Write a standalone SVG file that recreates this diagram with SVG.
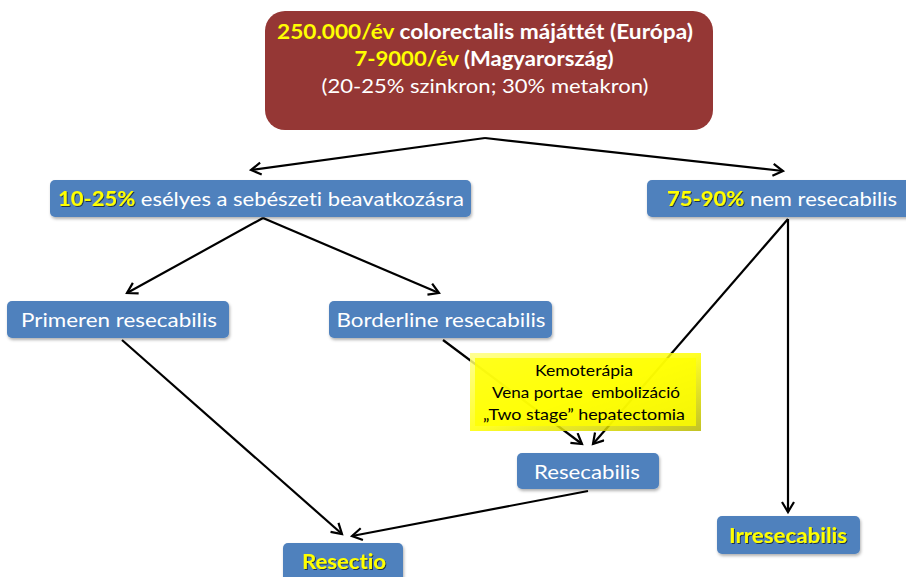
<svg xmlns="http://www.w3.org/2000/svg" width="906" height="577" viewBox="0 0 906 577">
<style>
.t{font-family:Lato,"Open Sans","Liberation Sans",sans-serif;font-variant-ligatures:none;white-space:pre;}
.w{fill:#ffffff;}
.y{fill:#ffff00;}
.b{font-weight:bold;}
.blue{fill:#4f81bd;}
.conn{stroke:#000;stroke-width:2.2;fill:none;marker-end:url(#arr);}
.ys{filter:url(#tsh);}
</style>
<defs>
<marker id="arr" markerUnits="userSpaceOnUse" markerWidth="16" markerHeight="16" refX="12" refY="7" orient="auto">
<path d="M2,1 L12,7 L2,13" fill="none" stroke="#000" stroke-width="2.2"/>
</marker>
<filter id="sh" x="-10%" y="-20%" width="120%" height="160%">
<feDropShadow dx="1" dy="2" stdDeviation="1.5" flood-color="#000" flood-opacity="0.3"/>
</filter>
<filter id="tsh" x="-10%" y="-20%" width="130%" height="160%">
<feDropShadow dx="1" dy="1" stdDeviation="0.6" flood-color="#000" flood-opacity="0.6"/>
</filter>
<linearGradient id="bev" x1="0" y1="0" x2="1" y2="1">
<stop offset="0" stop-color="#ffff80"/>
<stop offset="0.5" stop-color="#ffff00"/>
<stop offset="1" stop-color="#b8b800"/>
</linearGradient>
</defs>
<rect width="906" height="577" fill="#ffffff"/>
<g id="connectors">
<line class="conn" x1="485" y1="138" x2="251" y2="170"/>
<line class="conn" x1="485" y1="138" x2="783" y2="171"/>
<line class="conn" x1="263" y1="218" x2="127" y2="293"/>
<line class="conn" x1="263" y1="218" x2="439" y2="293"/>
<line class="conn" x1="122" y1="340" x2="342" y2="534"/>
<line class="conn" x1="443" y1="340" x2="582" y2="444"/>
<line class="conn" x1="788" y1="219" x2="593" y2="444"/>
<line class="conn" x1="788" y1="219" x2="788" y2="512"/>
<line class="conn" x1="588" y1="491" x2="352" y2="536"/>
</g>
<g id="top">
<rect x="265" y="11" width="448" height="119" rx="20" fill="#953735"/>
<text class="t b" x="485" y="39" font-size="20" text-anchor="middle" textLength="416" lengthAdjust="spacingAndGlyphs"><tspan class="y">250.000/év</tspan><tspan class="w"> colorectalis májáttét (Európa)</tspan></text>
<text class="t b" x="484" y="66" font-size="20" text-anchor="middle" textLength="259" lengthAdjust="spacingAndGlyphs"><tspan class="y">7-9000/év</tspan><tspan class="w"> (Magyarország)</tspan></text>
<text class="t w" x="485" y="93" font-size="20" text-anchor="middle" textLength="327" lengthAdjust="spacingAndGlyphs">(20-25% szinkron; 30% metakron)</text>
</g>
<g id="esely">
<rect class="blue" x="50" y="180" width="421" height="37" rx="5" filter="url(#sh)"/>
<text class="t w" x="261" y="206" font-size="20" text-anchor="middle" textLength="406" lengthAdjust="spacingAndGlyphs"><tspan class="y b ys">10-25%</tspan> esélyes a sebészeti beavatkozásra</text>
</g>
<g id="nemres">
<rect class="blue" x="647" y="180" width="270" height="37" rx="5" filter="url(#sh)"/>
<text class="t w" x="782" y="206" font-size="20" text-anchor="middle" textLength="230" lengthAdjust="spacingAndGlyphs"><tspan class="y b ys">75-90%</tspan> nem resecabilis</text>
</g>
<g id="primeren">
<rect class="blue" x="7" y="301" width="222" height="37" rx="5" filter="url(#sh)"/>
<text class="t w" x="119" y="327" font-size="20" text-anchor="middle" textLength="196" lengthAdjust="spacingAndGlyphs">Primeren resecabilis</text>
</g>
<g id="borderline">
<rect class="blue" x="329" y="301" width="223" height="37" rx="5" filter="url(#sh)"/>
<text class="t w" x="441" y="327" font-size="20" text-anchor="middle" textLength="209" lengthAdjust="spacingAndGlyphs">Borderline resecabilis</text>
</g>
<g id="kemo">
<rect x="470" y="353" width="231" height="78" fill="url(#bev)" fill-opacity="0.85"/>
<rect x="475" y="358" width="221" height="68" fill="#ffff00" fill-opacity="0.8"/>
<text class="t" x="584" y="376" font-size="16" text-anchor="middle" textLength="98" lengthAdjust="spacingAndGlyphs" fill="#000">Kemoterápia</text>
<text class="t" x="586" y="398" font-size="16" text-anchor="middle" textLength="188" lengthAdjust="spacingAndGlyphs" fill="#000">Vena portae  embolizáció</text>
<text class="t" x="584" y="420" font-size="16" text-anchor="middle" textLength="202" lengthAdjust="spacingAndGlyphs" fill="#000">„Two stage” hepatectomia</text>
</g>
<g id="resecabilis">
<rect class="blue" x="517" y="453" width="142" height="36" rx="5" filter="url(#sh)"/>
<text class="t w" x="587" y="479" font-size="20" text-anchor="middle" textLength="106" lengthAdjust="spacingAndGlyphs">Resecabilis</text>
</g>
<g id="resectio">
<rect class="blue" x="283" y="543" width="120" height="40" rx="5" filter="url(#sh)"/>
<text class="t y b ys" x="344" y="569" font-size="20" text-anchor="middle" textLength="84" lengthAdjust="spacingAndGlyphs">Resectio</text>
</g>
<g id="irresecabilis">
<rect class="blue" x="717" y="516" width="143" height="38" rx="5" filter="url(#sh)"/>
<text class="t y b ys" x="788" y="543" font-size="20" text-anchor="middle" textLength="118" lengthAdjust="spacingAndGlyphs">Irresecabilis</text>
</g>
</svg>
